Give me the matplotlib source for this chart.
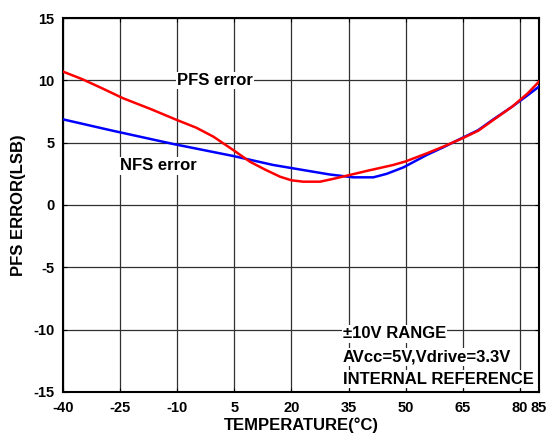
import matplotlib
matplotlib.use("Agg")
import matplotlib.pyplot as plt

plt.rcParams['font.family'] = ['Liberation Sans', 'DejaVu Sans']
plt.rcParams['font.weight'] = 'bold'

pfs_t = [-40, -35, -30, -24.2, -17, -10.1, -5, -0.5, 4.7, 9.1, 13, 17.0, 20, 23.1, 27.5, 31, 34.5, 40, 46.7, 50, 55.5, 60, 64.3, 69, 73.0, 78, 82, 85]
pfs_v = [10.7, 10.1, 9.4, 8.56, 7.7, 6.82, 6.2, 5.48, 4.41, 3.47, 2.85, 2.27, 1.98, 1.87, 1.87, 2.1, 2.35, 2.75, 3.21, 3.5, 4.14, 4.7, 5.27, 5.95, 6.82, 7.9, 8.95, 9.9]
nfs_t = [-40, -27.7, -11, 4.7, 15.2, 25.7, 30, 36.2, 41.5, 45, 49.4, 55.5, 60, 64.3, 69, 73, 78, 82, 85]
nfs_v = [6.87, 6.01, 4.89, 3.93, 3.21, 2.67, 2.45, 2.22, 2.22, 2.5, 3.02, 4.01, 4.65, 5.3, 6.0, 6.87, 7.9, 8.8, 9.5]

xticks = [-40, -25, -10, 5, 20, 35, 50, 65, 80, 85]
yticks = [-15, -10, -5, 0, 5, 10, 15]
info_lines = ['±10V RANGE', 'AVcc=5V,Vdrive=3.3V', 'INTERNAL REFERENCE']

fig = plt.figure(figsize=(5.47, 4.34), dpi=100)
ax = fig.add_axes([0.1152, 0.0968, 0.8702, 0.8617])

ax.plot(nfs_t, nfs_v, color='#0000ff', lw=1.8, zorder=3)
ax.plot(pfs_t, pfs_v, color='#ff0000', lw=1.8, zorder=4)

ax.set_xlim(-40, 85)
ax.set_ylim(-15, 15)
ax.set_xticks(xticks)
ax.set_yticks(yticks)
ax.set_xticklabels([str(t) for t in xticks], fontsize=10.5, fontweight='bold')
ax.set_yticklabels([str(t) for t in yticks], fontsize=10.5, fontweight='bold')
ax.grid(True, color='#303030', lw=0.9, zorder=1)
ax.tick_params(direction='in', length=3, width=0.8, top=True, right=True)
ax.tick_params(axis='x', pad=6.5)
ax.tick_params(axis='y', pad=6)
for s in ax.spines.values():
    s.set_linewidth(1.5)
    s.set_color('black')

ax.set_xlabel('TEMPERATURE(°C)', fontsize=12, fontweight='bold')
ax.xaxis.set_label_coords(0.5, -0.068)
ax.set_ylabel('PFS ERROR(LSB)', fontsize=12, fontweight='bold')
ax.yaxis.set_label_coords(-0.077, 0.5)

bb = dict(facecolor='white', edgecolor='none', pad=1)
ax.text(-0.1, 10.0, 'PFS error', ha='center', va='center', fontsize=12, fontweight='bold', bbox=bb, zorder=5)
ax.text(-15, 3.13, 'NFS error', ha='center', va='center', fontsize=12, fontweight='bold', bbox=bb, zorder=5)
for txt, yv in zip(info_lines, [-10.34, -12.17, -13.98]):
    ax.text(33.5, yv, txt, ha='left', va='center', fontsize=12, fontweight='bold', bbox=bb, zorder=5)

fig.savefig('out.png', dpi=100)
